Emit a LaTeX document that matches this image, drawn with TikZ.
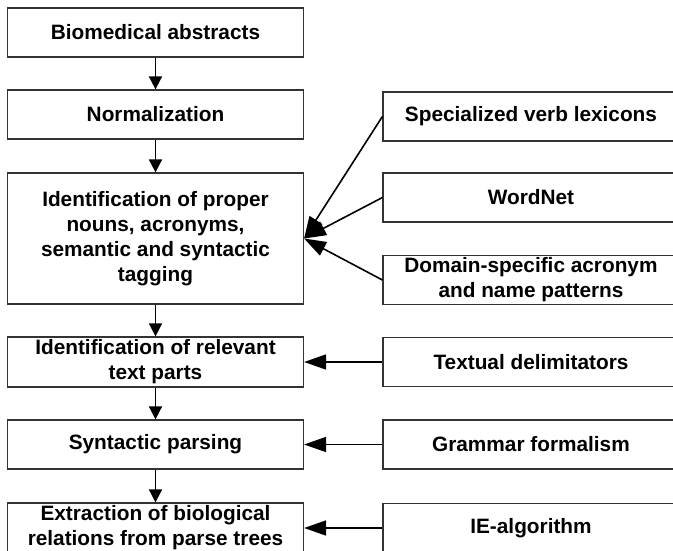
\documentclass[tikz,border=0pt]{standalone}
\usepackage{fontspec}
\setmainfont{Liberation Sans}
\usepackage{tikz}
\usetikzlibrary{arrows.meta,shapes}
\tikzstyle{block}=[draw=black!80,line width=1.2pt,rectangle,minimum width=296pt,inner sep=0pt,align=center,font=\fontsize{20.8}{25}\selectfont\bfseries]
\tikzstyle{down} = [draw,line width=1.6pt,-{Triangle[length=13pt,width=13pt]}]
\tikzstyle{feed} = [draw,line width=1.6pt,-{Triangle[length=22pt,width=15pt]}]

\begin{document}
\begin{tikzpicture}[x=1pt,y=-1pt]
    \useasboundingbox (0,0) rectangle (673,551);
    % Processing steps on the left
    \foreach \pos/\h/\name/\txt in {{(155.5,32.5)/49/abs/Biomedical abstracts},
        {(155.5,114.5)/49/norm/Normalization},
        {(155.5,238.5)/131/tag/{Identification of proper\\nouns, acronyms,\\semantic and syntactic\\tagging}},
        {(155.5,362)/50/rel/{Identification of relevant\\text parts}},
        {(155.5,444.5)/49/parse/Syntactic parsing},
        {(155.5,528)/50/extr/{Extraction of biological\\relations from parse trees}}}
        \node[block,minimum height=\h pt] (\name) at \pos {\txt};
    % Resources on the right
    \foreach \pos/\name/\txt in {{(531,116.5)/verb/Specialized verb lexicons},
        {(531,197.5)/wnet/WordNet},
        {(531,280)/acro/{Domain-specific acronym\\and name patterns}},
        {(531,362)/delim/Textual delimitators},
        {(531,444.5)/gram/Grammar formalism},
        {(531,528)/ieal/IE-algorithm}}
        \node[block,minimum height=49pt] (\name) at \pos {\txt};
    % Connect the steps
    \foreach \source/ \dest in {abs/norm, norm/tag, tag/rel, rel/parse, parse/extr}
        \path[down] (\source) -- (\dest);
    \foreach \source in {verb, wnet, acro}
        \path[feed] (\source.west) -- (tag.east);
    \foreach \source/ \dest in {delim/rel, gram/parse, ieal/extr}
        \path[feed] (\source) -- (\dest);

\end{tikzpicture}
\end{document}
